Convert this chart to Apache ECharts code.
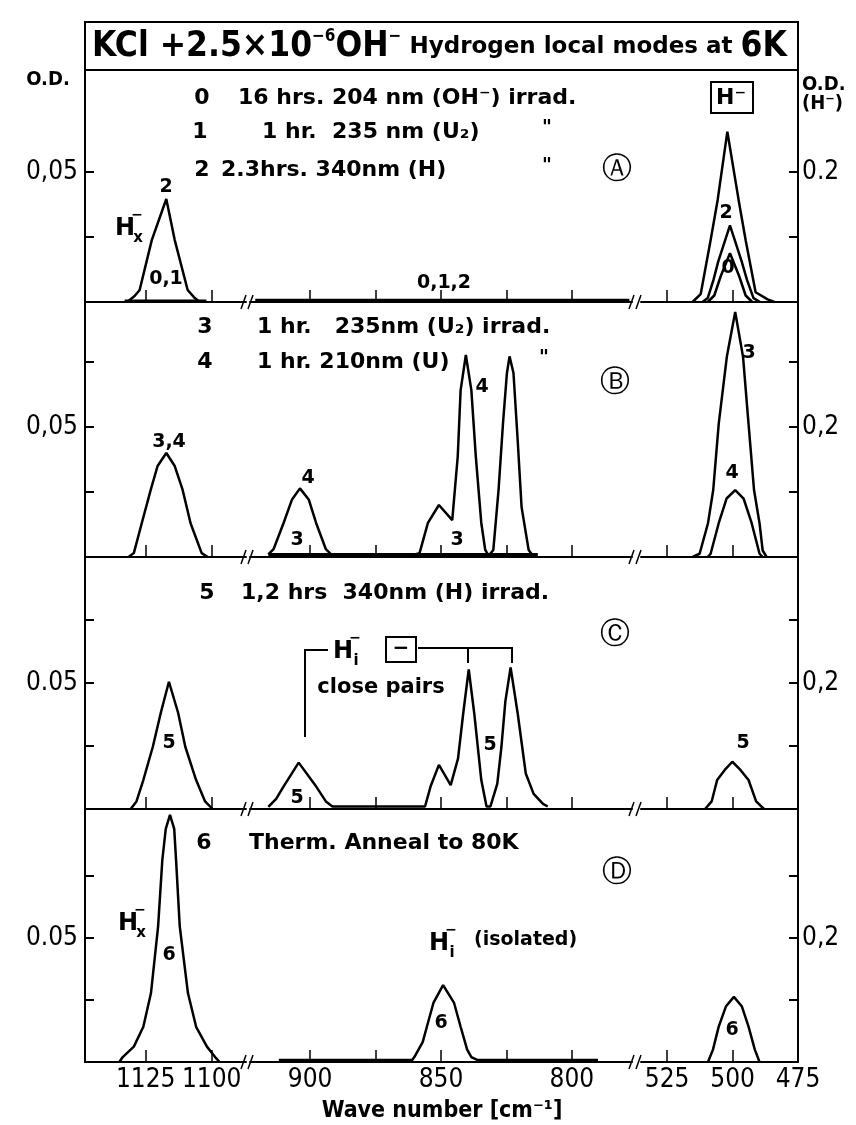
<!DOCTYPE html>
<html>
<head>
<meta charset="utf-8">
<script src="https://cdn.jsdelivr.net/npm/echarts@6/dist/echarts.min.js"></script>
<style>
  html, body { margin: 0; padding: 0; background: #fff; }
  #chart { width: 856px; height: 1125px; }
</style>
</head>
<body>
<div id="chart"></div>
<script>
// ---- x axis pieces (broken axis: 1148-1087 | 923-777 | 535-475 cm-1)
const segMin = [1087, 777, 475];
const segMax = [1148, 923, 535];
const segTicks = [[1100, 1125], [800, 825, 850, 875, 900], [475, 500, 525]];
const segLabels = [[1100, 1125], [800, 850, 900], [475, 500, 525]];

// ---- y axes: O.D. on the left, O.D.(H-) on the right
const odTicks = [[0.025, 0.05], [0.025, 0.05, 0.075], [0.025, 0.05, 0.075], [0.025, 0.05, 0.075]];
const odLabels = ['0,05', '0,05', '0.05', '0.05'];
const odHTicks = [[0.1, 0.2], [0.1, 0.2, 0.3], [0.1, 0.2, 0.3], [0.1, 0.2, 0.3]];
const odHLabels = ['0.2', '0,2', '0,2', '0,2'];

// ---- spectra  [wave number, O.D.]
// A: 0 = 16 hrs 204nm, 1 = 1 hr 235nm, 2 = 2.3 hrs 340nm
const aHx2 = [[1132, 0], [1129.2, 0.0023], [1127.3, 0.0046], [1122.7, 0.0238], [1117.2, 0.0396], [1114, 0.0238], [1109.1, 0.0046], [1106.4, 0.0015], [1104.5, 0]];
const aHx01 = [[1133, 0.0005], [1102, 0.0005]];
const aMid012 = [[921, 0.0006], [778, 0.0006]];
const aH1 = [[515.3, 0], [512.2, 0.012], [508.4, 0.095], [505.7, 0.157], [502, 0.262], [497.7, 0.157], [495, 0.095], [491.2, 0.015], [486.6, 0.004], [484, 0]];
const aH2 = [[511.5, 0], [509.5, 0.006], [507.3, 0.034], [505.5, 0.062], [501, 0.118], [496.5, 0.062], [494.5, 0.034], [492, 0.006], [489.5, 0]];
const aH0 = [[509.5, 0], [507, 0.01], [504.5, 0.04], [501, 0.075], [497.5, 0.04], [495, 0.01], [492.5, 0]];

// B: 3 = 1 hr 235nm, 4 = 1 hr 210nm
const bHx34 = [[1131.5, 0], [1129.5, 0.0015], [1126.5, 0.013], [1123.1, 0.0258], [1120.5, 0.035], [1117.2, 0.04], [1114, 0.035], [1111, 0.0258], [1108, 0.013], [1103.8, 0.0015], [1101.5, 0]];
const bMid4 = [[916, 0.001], [914, 0.003], [910.2, 0.013], [907, 0.022], [903.9, 0.0264], [900.5, 0.022], [897.7, 0.013], [894, 0.003], [892, 0.001],
  [880, 0.001], [860, 0.001], [858.2, 0.0015], [855, 0.0131], [850.8, 0.02], [845.7, 0.0142], [843.6, 0.0387], [842.5, 0.0642], [840.5, 0.0777],
  [838.4, 0.0642], [836.7, 0.0387], [834.6, 0.0131], [833.1, 0.0027], [831.8, 0.0005], [830, 0.0027], [828, 0.0258], [826.3, 0.0515],
  [824.8, 0.0708], [823.8, 0.0772], [822.3, 0.0708], [820.7, 0.045], [819.2, 0.0192], [816.5, 0.0027], [814.9, 0.0005]];
const bMid3 = [[916, 0.001], [813, 0.001]];
const bH3 = [[515.3, 0], [512.6, 0.005], [509.4, 0.052], [507.4, 0.103], [505.3, 0.205], [502.2, 0.308], [499, 0.377], [496, 0.308], [493.9, 0.205], [491.8, 0.103], [489.7, 0.052], [488.5, 0.01], [487, 0]];
const bH4 = [[509.5, 0], [508.4, 0.005], [505.3, 0.052], [502.3, 0.09], [499, 0.103], [495.8, 0.09], [492.7, 0.052], [489.7, 0.005], [488.5, 0]];

// C: 5 = 1.2 hrs 340nm
const cHx5 = [[1130.7, 0], [1128.5, 0.003], [1125.9, 0.0115], [1122.3, 0.0247], [1119.3, 0.0381], [1116.2, 0.0505], [1112.7, 0.0381], [1110, 0.0247], [1105.9, 0.0115], [1102.5, 0.003], [1099.7, 0]];
const cMid5 = [[916, 0.0008], [915.4, 0.001], [913, 0.004], [910.2, 0.0089], [904.4, 0.0184], [897.7, 0.0089], [894, 0.003], [891.5, 0.001],
  [870, 0.001], [857, 0.001], [856.1, 0.001], [854, 0.0089], [850.8, 0.0175], [846.3, 0.0095], [843.5, 0.02], [841.5, 0.038], [839.4, 0.0554],
  [837.3, 0.038], [834.6, 0.0115], [832.6, 0.001], [831.1, 0.001], [828.5, 0.01], [826.9, 0.0247], [825.4, 0.0427], [823.4, 0.0562],
  [820.7, 0.038], [817.6, 0.0141], [814.6, 0.006], [811, 0.002], [809.2, 0.001]];
const cH5 = [[510.5, 0], [508, 0.012], [505.9, 0.046], [503, 0.062], [500.1, 0.075], [497, 0.062], [493.9, 0.046], [491, 0.012], [488, 0]];

// D: 6 = thermal anneal to 80K
const dHx6 = [[1135, 0], [1133.7, 0.002], [1129.5, 0.0062], [1125.9, 0.0142], [1123, 0.0278], [1120.3, 0.0547], [1118.7, 0.0815], [1117.4, 0.094],
  [1115.8, 0.0996], [1114.2, 0.094], [1113.5, 0.0815], [1112.1, 0.0547], [1109, 0.0278], [1105.9, 0.0142], [1101.8, 0.0062], [1098.7, 0.002], [1097, 0]];
const dMid6 = [[912, 0.0008], [861, 0.0008], [860.2, 0.002], [857, 0.008], [855.4, 0.0142], [852.9, 0.0238], [849.2, 0.031], [845, 0.0238],
  [842.5, 0.0142], [840, 0.005], [838.4, 0.002], [836, 0.0008], [790, 0.0008]];
const dH6 = [[509.4, 0], [507.5, 0.02], [505.3, 0.057], [502.5, 0.09], [499.5, 0.105], [496.5, 0.09], [493.9, 0.057], [491.5, 0.02], [489.7, 0]];

// panel, segment, data, line width
const curves = [
  [0, 0, aHx2], [0, 0, aHx01], [0, 1, aMid012, 3.5], [0, 2, aH1], [0, 2, aH2], [0, 2, aH0],
  [1, 0, bHx34], [1, 1, bMid4], [1, 1, bMid3, 3], [1, 2, bH3], [1, 2, bH4],
  [2, 0, cHx5], [2, 1, cMid5], [2, 2, cH5],
  [3, 0, dHx6], [3, 1, dMid6], [3, 2, dH6]
];

// ---- layout
const segLeft = [85, 250, 641];
const segWidth = [161, 382, 157];
const panelTop = [70, 302, 557, 809];
const panelHeight = [232, 255, 252, 253];
const panelMax = [0.0892, 0.0981, 0.1, 0.102];

const FC = '"DejaVu Sans Condensed", "DejaVu Sans", sans-serif';
const FN = '"DejaVu Sans", sans-serif';
const axisFont = { color: '#000', fontSize: 26, fontFamily: FC };

const grids = [], xAxes = [], yAxes = [];
for (let p = 0; p < 4; p++) {
  for (let s = 0; s < 3; s++) {
    grids.push({ left: segLeft[s], width: segWidth[s], top: panelTop[p], height: panelHeight[p], containLabel: false, outerBoundsMode: 'none' });
    xAxes.push({
      gridIndex: p * 3 + s, type: 'value', inverse: true, min: segMin[s], max: segMax[s],
      axisLine: { show: true, onZero: false, lineStyle: { color: '#000', width: 2 } },
      axisTick: { show: true, inside: true, length: 12, customValues: segTicks[s], lineStyle: { color: '#000', width: 1.5 } },
      axisLabel: Object.assign({ show: p === 3, customValues: segLabels[s], margin: 5, formatter: v => String(v) }, axisFont),
      splitLine: { show: false }
    });
    if (s === 0) {
      yAxes.push({
        gridIndex: p * 3, type: 'value', position: 'left', min: 0, max: panelMax[p],
        axisLine: { show: true, lineStyle: { color: '#000', width: 2 } },
        axisTick: { show: true, inside: true, length: 9, customValues: odTicks[p], lineStyle: { color: '#000', width: 2 } },
        axisLabel: Object.assign({ customValues: [0.05], formatter: () => odLabels[p], margin: 7 }, axisFont),
        splitLine: { show: false }
      });
    } else if (s === 1) {
      yAxes.push({ gridIndex: p * 3 + 1, type: 'value', min: 0, max: panelMax[p], show: false, splitLine: { show: false } });
    } else {
      yAxes.push({
        gridIndex: p * 3 + 2, type: 'value', position: 'right', min: 0, max: panelMax[p] * 4,
        axisLine: { show: true, lineStyle: { color: '#000', width: 2 } },
        axisTick: { show: true, inside: true, length: 9, customValues: odHTicks[p], lineStyle: { color: '#000', width: 2 } },
        axisLabel: Object.assign({ customValues: [0.2], formatter: () => odHLabels[p], margin: 4 }, axisFont),
        splitLine: { show: false }
      });
    }
  }
}

const series = curves.map(([p, s, d, w]) => ({
  type: 'line', xAxisIndex: p * 3 + s, yAxisIndex: p * 3 + s, data: d,
  showSymbol: false, silent: true, clip: false,
  lineStyle: { color: '#000', width: w || 2.5 }
}));

// ---- annotations
function txt(x, y, s, size, extra, fam, weight) {
  return {
    type: 'text', x: x, y: y, silent: true,
    style: Object.assign({
      text: s, font: (weight || 'normal') + ' ' + size + 'px ' + (fam || FC),
      fill: '#000', textAlign: 'center', textVerticalAlign: 'middle'
    }, extra || {})
  };
}
// legend lines: index number + description
function leg(xn, xt, y, n, s) {
  return [txt(xn, y, n, 22, null, FN, 'bold'), txt(xt, y, s, 22, { textAlign: 'left' }, FN, 'bold')];
}
function lab(x, y, s) { return txt(x, y, s, 19, null, FN, 'bold'); }
function line(pts, w) {
  return { type: 'polyline', silent: true, shape: { points: pts }, style: { stroke: '#000', lineWidth: w || 2, fill: null } };
}
function hSubSup(x, y, sub) {
  return [txt(x, y, 'H', 24, null, FN, 'bold'), txt(x + 12, y - 14, '−', 14, null, FN, 'bold'), txt(x + 13, y + 9, sub, 15, null, FN, 'bold')];
}
function boxed(x, y, w, h) {
  return { type: 'rect', silent: true, shape: { x: x, y: y, width: w, height: h }, style: { stroke: '#000', lineWidth: 2, fill: null } };
}

const graphics = [
  boxed(85, 22, 713, 48),
  {
    type: 'text', x: 92, y: 47, silent: true,
    style: {
      text: '{b|KCl +2.5×10}{s|−6}{b|OH}{s|−}{m| Hydrogen local modes at }{b|6K}',
      textVerticalAlign: 'middle', fill: '#000',
      rich: {
        b: { fontSize: 35, fontWeight: 'bold', fontFamily: FC, lineHeight: 38 },
        s: { fontSize: 17, fontWeight: 'bold', fontFamily: FC, verticalAlign: 'top', lineHeight: 17 },
        m: { fontSize: 23, fontWeight: 'bold', fontFamily: FN, lineHeight: 38 }
      }
    }
  },
  txt(48, 80, 'O.D.', 20, null, FC, 'bold'),
  txt(802, 85, 'O.D.', 20, { textAlign: 'left' }, FC, 'bold'),
  txt(802, 104, '(H⁻)', 20, { textAlign: 'left' }, FC, 'bold'),

  // panel A
  ...leg(202, 238, 98, '0', '16 hrs. 204 nm (OH⁻) irrad.'),
  ...leg(200, 262, 132, '1', '1 hr.  235 nm (U₂)'), lab(547, 128, '"'),
  ...leg(202, 221, 170, '2', '2.3hrs. 340nm (H)'), lab(547, 166, '"'),
  txt(617, 170, 'Ⓐ', 30, null, FN),
  boxed(711, 82, 42, 31), txt(731, 98, 'H⁻', 22, null, FN, 'bold'),
  lab(166, 187, '2'), ...hSubSup(125, 229, 'x'),
  lab(166, 279, '0,1'), lab(444, 283, '0,1,2'), lab(726, 213, '2'), lab(728, 268, '0'),

  // panel B
  ...leg(205, 257, 327, '3', '1 hr.   235nm (U₂) irrad.'),
  ...leg(205, 257, 362, '4', '1 hr. 210nm (U)'), lab(544, 358, '"'),
  txt(615, 383, 'Ⓑ', 30, null, FN),
  lab(169, 442, '3,4'), lab(308, 478, '4'), lab(297, 540, '3'), lab(482, 387, '4'),
  lab(457, 540, '3'), lab(749, 353, '3'), lab(732, 473, '4'),

  // panel C
  ...leg(207, 241, 593, '5', '1,2 hrs  340nm (H) irrad.'),
  txt(615, 635, 'Ⓒ', 30, null, FN),
  ...hSubSup(343, 652, 'i'),
  boxed(386, 637, 30, 25), txt(401, 649, '−', 20, null, FN, 'bold'),
  line([[305, 737], [305, 650], [328, 650]]),
  line([[418, 648], [512, 648], [512, 663]]),
  line([[468, 648], [468, 663]]),
  txt(381, 688, 'close pairs', 21, null, FN, 'bold'),
  lab(169, 743, '5'), lab(297, 798, '5'), lab(490, 745, '5'), lab(743, 743, '5'),

  // panel D
  ...leg(204, 249, 843, '6', 'Therm. Anneal to 80K'),
  txt(617, 873, 'Ⓓ', 30, null, FN),
  ...hSubSup(128, 924, 'x'),
  lab(169, 955, '6'),
  ...hSubSup(439, 944, 'i'), txt(474, 940, '(isolated)', 19, { textAlign: 'left' }, FN, 'bold'),
  lab(441, 1023, '6'), lab(732, 1030, '6'),
  txt(442, 1111, 'Wave number [cm⁻¹]', 23, null, FC, 'bold')
];

// axis break marks "//"
for (let p = 0; p < 4; p++) {
  const y = panelTop[p] + panelHeight[p];
  [248, 636].forEach(x => {
    graphics.push(line([[x - 7, y + 7], [x - 2, y - 7]], 1.5));
    graphics.push(line([[x, y + 7], [x + 5, y - 7]], 1.5));
  });
}

const chart = echarts.init(document.getElementById('chart'));
chart.setOption({
  animation: false,
  backgroundColor: '#fff',
  grid: grids,
  xAxis: xAxes,
  yAxis: yAxes,
  series: series,
  graphic: { elements: graphics }
});
</script>
</body>
</html>
